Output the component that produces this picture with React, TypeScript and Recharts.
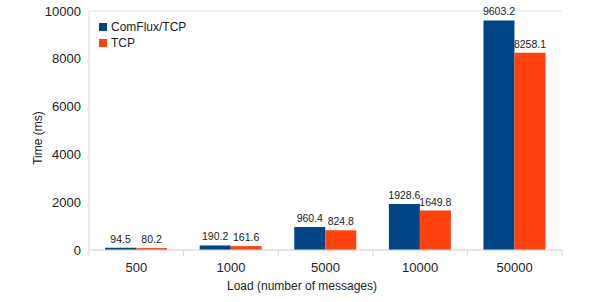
import { BarChart, Bar, XAxis, YAxis, CartesianGrid, LabelList, Label } from 'recharts';

const loads = ['500', '1000', '5000', '10000', '50000'];
const comfluxTimes = [94.5, 190.2, 960.4, 1928.6, 9603.2];
const tcpTimes = [80.2, 161.6, 824.8, 1649.8, 8258.1];
const yTicks = [0, 2000, 4000, 6000, 8000, 10000];

const series = [
  { key: 'comflux', name: 'ComFlux/TCP', color: '#004586' },
  { key: 'tcp', name: 'TCP', color: '#ff420e' },
];

const FONT = '"Liberation Sans", Arial, sans-serif';
const BAND = (562 - 89) / loads.length;

const CategoryTick = (props: any) => {
  const { x, y, payload, index } = props;
  return (
    <g>
      <line x1={x - BAND / 2} x2={x - BAND / 2} y1={y - 8} y2={y - 2} stroke="#d9d9d9" />
      {index === loads.length - 1 && (
        <line x1={x + BAND / 2} x2={x + BAND / 2} y1={y - 8} y2={y - 2} stroke="#d9d9d9" />
      )}
      <text x={x} y={y} dy={14} textAnchor="middle" fontSize={13} fill="#222" fontFamily={FONT}>
        {payload.value}
      </text>
    </g>
  );
};

const App = () => {
  const data = loads.map((load, i) => ({
    load,
    comflux: comfluxTimes[i],
    tcp: tcpTimes[i],
  }));

  return (
    <div style={{ position: 'absolute', left: 0, top: 0, width: 598, height: 302, background: '#fff' }}>
      <BarChart
        width={598}
        height={302}
        data={data}
        margin={{ top: 11, right: 36, bottom: 12, left: 29 }}
        barCategoryGap="17%"
        barGap={0}
        style={{ fontFamily: FONT }}
      >
        <CartesianGrid vertical={false} stroke="#e6e6e6" />
        <XAxis
          dataKey="load"
          height={40}
          tickLine={false}
          axisLine={{ stroke: '#d9d9d9' }}
          tick={<CategoryTick />}
          interval={0}
        >
          <Label
            content={() => (
              <text x={302} y={290} textAnchor="middle" fontSize={12} fill="#222" fontFamily={FONT}>
                Load (number of messages)
              </text>
            )}
          />
        </XAxis>
        <YAxis
          yAxisId="left"
          width={60}
          domain={[0, 10000]}
          ticks={yTicks}
          tickLine={false}
          axisLine={{ stroke: '#d9d9d9' }}
          tick={{ fontSize: 13, fill: '#222', fontFamily: FONT }}
        >
          <Label
            content={() => (
              <text
                x={42}
                y={138}
                transform="rotate(-90 42 138)"
                textAnchor="middle"
                fontSize={12}
                fill="#222"
                fontFamily={FONT}
              >
                Time (ms)
              </text>
            )}
          />
        </YAxis>
        <YAxis
          yAxisId="right"
          orientation="right"
          width={0}
          domain={[0, 10000]}
          tick={false}
          tickLine={false}
          axisLine={{ stroke: '#e6e6e6' }}
        />
        {series.map((s) => (
          <Bar key={s.key} yAxisId="left" dataKey={s.key} name={s.name} fill={s.color} isAnimationActive={false}>
            <LabelList dataKey={s.key} position="top" offset={5} fontSize={10.5} fill="#222" fontFamily={FONT} />
          </Bar>
        ))}
      </BarChart>
      <div style={{ position: 'absolute', left: 99, top: 19, fontFamily: FONT, fontSize: 12, color: '#222' }}>
        {series.map((s) => (
          <div key={s.key} style={{ display: 'flex', alignItems: 'center', height: 16 }}>
            <div style={{ width: 8, height: 8, background: s.color, marginRight: 4 }} />
            <span>{s.name}</span>
          </div>
        ))}
      </div>
    </div>
  );
};

export default App;
